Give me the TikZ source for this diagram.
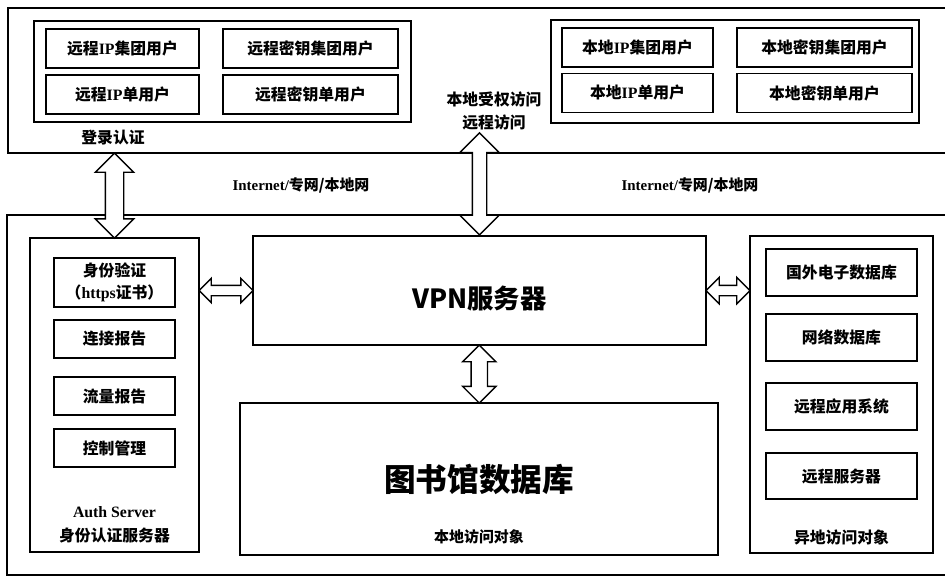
\documentclass[tikz,border=0pt]{standalone}
\usepackage{fontspec}
\setmainfont{Noto Sans CJK SC}
\newfontfamily\romfont{Liberation Serif}
\usetikzlibrary{positioning,calc,shapes.arrows}
\newcommand{\rom}[1]{{\romfont #1}}

\begin{document}
\begin{tikzpicture}[x=0.02cm,y=-0.02cm,
    band/.style={draw,line width=0.8pt,inner sep=0pt},
    grp/.style={draw,line width=0.8pt,inner sep=0pt},
    item/.style={draw,line width=0.8pt,inner sep=0pt,minimum height=0.78cm,align=center,font=\bfseries\fontsize{9}{12.5}\selectfont},
    txt/.style={inner sep=1pt,align=center,font=\bfseries\fontsize{9}{13.5}\selectfont},
    dbl/.style={double arrow,draw,fill=white,line width=0.8pt,inner xsep=0pt}]
  \useasboundingbox (0,0) rectangle (945,583);

  % the two outer bands
  \node[band,minimum width=18.94cm,minimum height=2.9cm] (top) at (481.5,80.5) {};
  \node[band,minimum width=18.96cm,minimum height=7.2cm] (bot) at (481,395) {};

  % remote users
  \node[grp,minimum width=7.54cm,minimum height=2.02cm] (rgrp) at (222.5,71.5) {};
  \node[item,minimum width=3.06cm] (ripg) at (122.5,48.5) {远程\rom{IP}集团用户};
  \node[item,minimum width=3.5cm] (rkeyg) at (310.5,48.5) {远程密钥集团用户};
  \node[item,minimum width=3.06cm] (rips) at (122.5,94.5) {远程\rom{IP}单用户};
  \node[item,minimum width=3.5cm] (rkeys) at (310.5,94.5) {远程密钥单用户};
  \node[txt] (login) at (113,138) {登录认证};

  % local users
  \node[grp,minimum width=7.36cm,minimum height=2.06cm] (lgrp) at (735,71.5) {};
  \node[item,minimum width=3.02cm] (lipg) at (637.5,47.5) {本地\rom{IP}集团用户};
  \node[item,minimum width=3.5cm] (lkeyg) at (824.5,47.5) {本地密钥集团用户};
  \node[item,minimum width=3.02cm] (lips) at (637.5,93) {本地\rom{IP}单用户};
  \node[item,minimum width=3.5cm] (lkeys) at (824.5,93) {本地密钥单用户};
  \node[txt] (access) at (494,111) {本地受权访问\\远程访问};

  \node[txt,font=\bfseries\fontsize{8.5}{10}\selectfont] (net1) at (301,185) {\rom{Internet/}专网/本地网};
  \node[txt,font=\bfseries\fontsize{8.5}{10}\selectfont] (net2) at (690,185) {\rom{Internet/}专网/本地网};

  % auth server
  \node[grp,minimum width=3.38cm,minimum height=6.28cm] (auth) at (114.5,395) {};
  \node[item,minimum width=2.42cm,minimum height=0.98cm] (idv) at (114.5,282.5) {身份验证\\（\rom{https}证书）};
  \node[item,minimum width=2.42cm,minimum height=0.76cm] (conn) at (114.5,339) {连接报告};
  \node[item,minimum width=2.42cm,minimum height=0.76cm] (flow) at (114.5,396) {流量报告};
  \node[item,minimum width=2.42cm,minimum height=0.76cm] (ctrl) at (114.5,448) {控制管理};
  \node[txt] (authlbl) at (114.5,525) {\rom{Auth Server}\\身份认证服务器};

  % vpn and library
  \node[grp,minimum width=9.06cm,minimum height=2.18cm,
    label={[font=\bfseries\fontsize{15}{18}\selectfont,yshift=-0.16cm]center:VPN服务器}] (vpn) at (479.5,290.5) {};
  \node[grp,minimum width=9.56cm,minimum height=3.04cm,
    font=\bfseries\fontsize{18}{22}\selectfont] (lib) at (479,479) {图书馆数据库};
  \node[txt,font=\bfseries\fontsize{8.5}{10}\selectfont] (libsub) at (479,537) {本地访问对象};

  % remote resources
  \node[grp,minimum width=3.66cm,minimum height=6.34cm] (rem) at (841.5,394.5) {};
  \node[item,minimum width=3.02cm,minimum height=0.94cm] (fdb) at (841.5,272.5) {国外电子数据库};
  \node[item,minimum width=3.02cm,minimum height=0.94cm] (ndb) at (841.5,337.5) {网络数据库};
  \node[item,minimum width=3.02cm,minimum height=0.94cm] (app) at (841.5,406.5) {远程应用系统};
  \node[item,minimum width=3.02cm,minimum height=0.92cm] (srv) at (841.5,476) {远程服务器};
  \node[txt] (remlbl) at (841.5,537) {异地访问对象};

  % block arrows (inner ysep gives half the shaft)
  \node[dbl,rotate=90,minimum height=1.7cm,minimum width=0.74cm,inner ysep=0.17cm,double arrow head extend=0.2cm]
    (a1) at ($(top.south -| auth.north)!0.5!(auth.north)$) {};
  \node[dbl,rotate=90,minimum height=2.04cm,minimum width=0.76cm,inner ysep=0.13cm,double arrow head extend=0.25cm]
    (a2) at ($(access.south -| vpn.north)!0.5!(vpn.north)$) {};
  \node[dbl,rotate=90,minimum height=1.16cm,minimum width=0.64cm,inner ysep=0.15cm,double arrow head extend=0.17cm]
    (a3) at ($(vpn.south)!0.5!(lib.north)$) {};
  \node[dbl,minimum height=1.08cm,minimum width=0.46cm,inner ysep=0.09cm,double arrow head extend=0.14cm]
    (a4) at ($(auth.east |- vpn.west)!0.5!(vpn.west)$) {};
  \node[dbl,minimum height=0.88cm,minimum width=0.5cm,inner ysep=0.09cm,double arrow head extend=0.16cm]
    (a5) at ($(vpn.east)!0.5!(rem.west |- vpn.east)$) {};
\end{tikzpicture}
\end{document}
